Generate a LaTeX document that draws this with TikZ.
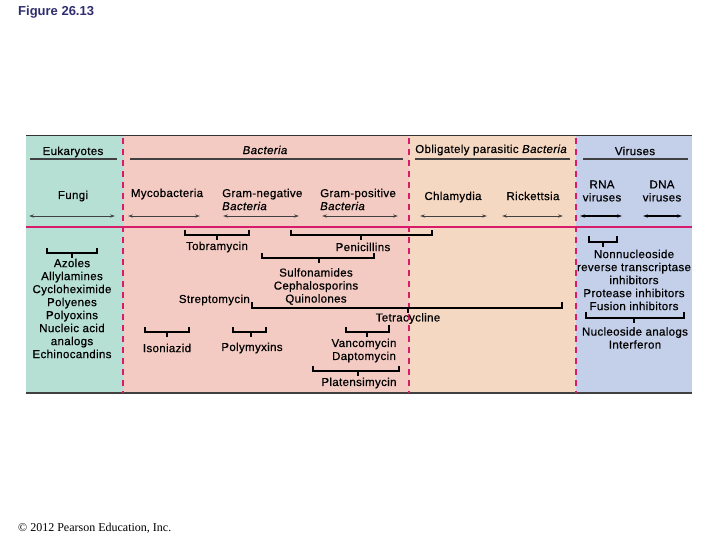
\documentclass[tikz,border=0pt]{standalone}
\usepackage{fontspec}
\setmainfont{Liberation Sans}[LetterSpace=3, FakeBold=0.6]
\newfontfamily\titlefont{Liberation Sans}
\newfontfamily\serifcopy{Liberation Serif}
\usetikzlibrary{arrows.meta}
\definecolor{eukgreen}{HTML}{B6E0D3}
\definecolor{bacpink}{HTML}{F3CBC3}
\definecolor{obpeach}{HTML}{F5D8C2}
\definecolor{virblue}{HTML}{C4D0EA}
\definecolor{magline}{HTML}{D81B6A}
\definecolor{navy}{HTML}{2E2D6E}
\tikzset{
  lbl/.style={inner sep=0pt, align=center, font=\fontsize{11.5}{13}\selectfont},
  lbll/.style={inner sep=0pt, align=left, anchor=west, font=\fontsize{11.5}{13}\selectfont},
  hdrline/.style={draw=black!75, line width=1.1pt},
  dbl/.style={draw=black!75, line width=0.8pt, {Stealth[length=5pt,width=3.2pt]}-{Stealth[length=5pt,width=3.2pt]}},
  dblk/.style={draw=black, line width=1.2pt, {Stealth[length=5pt,width=3.2pt]}-{Stealth[length=5pt,width=3.2pt]}},
  brk/.style={draw=black, line width=2pt},
  sep/.style={draw=magline, line width=2.5pt, dash pattern=on 6pt off 5pt},
}
\begin{document}
\begin{tikzpicture}[x=1pt,y=-1pt]
\useasboundingbox (0,0) rectangle (720,540);
% bands
\fill[eukgreen] (26,136) rectangle (123,393);
\fill[bacpink] (123,136) rectangle (409,393);
\fill[obpeach] (409,136) rectangle (576,393);
\fill[virblue] (576,136) rectangle (692,393);
\draw[black!80, line width=1pt] (26,136) -- (692,136);
\draw[black!75, line width=2pt] (26,393) -- (692,393);
\draw[magline, line width=2.2pt] (26,227) -- (692,227);
\draw[sep] (123,138) -- (123,393);
\draw[sep] (409,138) -- (409,393);
\draw[sep] (576,138) -- (576,393);
% title and footer
\node[inner sep=0pt, anchor=west, text=navy, font=\titlefont\fontsize{13}{15}\selectfont\bfseries] (title) at (18,12) {Figure 26.13};
\node[inner sep=0pt, anchor=west, font=\serifcopy\fontsize{12}{14}\selectfont] (copy) at (18,528) {© 2012 Pearson Education, Inc.};
% headers
\node[lbl] (euk) at (73,152) {Eukaryotes};
\node[lbl] (bac) at (265,150) {\itshape Bacteria};
\node[lbl] (obl) at (491,150) {Obligately parasitic \itshape Bacteria};
\node[lbl] (vir) at (635,151) {Viruses};
\draw[hdrline] (30,159) -- (117,159);
\draw[hdrline] (130,159) -- (403,159);
\draw[hdrline] (415,159) -- (570,159);
\draw[hdrline] (583,159) -- (688,159);
% second row
\node[lbl] (fungi) at (73,196) {Fungi};
\node[lbl] (myco) at (167,194) {Mycobacteria};
\node[lbll] (gneg) at (222,199.5) {Gram-negative\\\itshape Bacteria};
\node[lbll] (gpos) at (320,199.5) {Gram-positive\\\itshape Bacteria};
\node[lbl] (chla) at (453,197) {Chlamydia};
\node[lbl] (rick) at (533,196) {Rickettsia};
\node[lbl] (rna) at (602,191) {RNA\\viruses};
\node[lbl] (dna) at (662,191) {DNA\\viruses};
% double arrows
\coordinate (fa1) at (29,216); \coordinate (fa2) at (115,216);
\coordinate (ma1) at (128,216); \coordinate (ma2) at (200,216);
\coordinate (na1) at (223,216); \coordinate (na2) at (299,216);
\coordinate (pa1) at (322,216); \coordinate (pa2) at (398,216);
\coordinate (ca1) at (420,216); \coordinate (ca2) at (487,216);
\coordinate (ra1) at (502,216); \coordinate (ra2) at (563,216);
\coordinate (va1) at (580,216); \coordinate (va2) at (622,216);
\coordinate (da1) at (643,216); \coordinate (da2) at (682,216);
\draw[dbl] (fa1) -- (fa2);
\draw[dbl] (ma1) -- (ma2);
\draw[dbl] (na1) -- (na2);
\draw[dbl] (pa1) -- (pa2);
\draw[dbl] (ca1) -- (ca2);
\draw[dbl] (ra1) -- (ra2);
\draw[dblk] (va1) -- (va2);
\draw[dblk] (da1) -- (da2);
% eukaryote drugs
\draw[brk] (47,248) |- (97,253) -- (97,248);
\draw[brk] (72,253) -- (72,257.5);
\node[lbl] (eukdrugs) at (72,308.5) {Azoles\\Allylamines\\Cycloheximide\\Polyenes\\Polyoxins\\Nucleic acid\\analogs\\Echinocandins};
% bacteria drugs
\draw[brk] (185,230) |- (249,235) -- (249,230);
\draw[brk] (217,235) -- (217,239.5);
\node[lbl] (tobra) at (217,247) {Tobramycin};
\draw[brk] (291,230) |- (432,235) -- (432,230);
\draw[brk] (361,235) -- (361,239.5);
\node[lbl] (peni) at (363,247) {Penicillins};
\draw[brk] (262,253) |- (374,258) -- (374,253);
\draw[brk] (319,258) -- (319,262.5);
\node[lbl] (sulfo) at (316,286.5) {Sulfonamides\\Cephalosporins\\Quinolones};
\node[lbl, anchor=east] (strep) at (250,300) {Streptomycin};
\draw[brk] (252,302) |- (562,308) -- (562,302);
\draw[brk] (408,308) -- (408,312.5);
\node[lbl] (tetra) at (408,318.5) {Tetracycline};
\draw[brk] (145,327) |- (189,332) -- (189,327);
\draw[brk] (167,332) -- (167,336.5);
\node[lbl] (isoni) at (167,348) {Isoniazid};
\draw[brk] (233,327) |- (266,332) -- (266,327);
\draw[brk] (251,332) -- (251,336.5);
\node[lbl] (polym) at (252,348) {Polymyxins};
\draw[brk] (346,327) |- (389,332) -- (389,325);
\draw[brk] (367,332) -- (367,336.5);
\node[lbl] (vanco) at (364,350.5) {Vancomycin\\Daptomycin};
\draw[brk] (313,366) |- (399,371) -- (399,366);
\draw[brk] (358,371) -- (358,375.5);
\node[lbl] (plat) at (359,383) {Platensimycin};
% virus drugs
\draw[brk] (589,236) |- (617,242) -- (617,236);
\draw[brk] (603,242) -- (603,246.5);
\node[lbl] (nnrti) at (634,280) {Nonnucleoside\\reverse transcriptase\\inhibitors\\Protease inhibitors\\Fusion inhibitors};
\draw[brk] (586,312) |- (684,318) -- (684,312);
\draw[brk] (634,318) -- (634,322.5);
\node[lbl] (nucl) at (635,338) {Nucleoside analogs\\Interferon};
\end{tikzpicture}
\end{document}
